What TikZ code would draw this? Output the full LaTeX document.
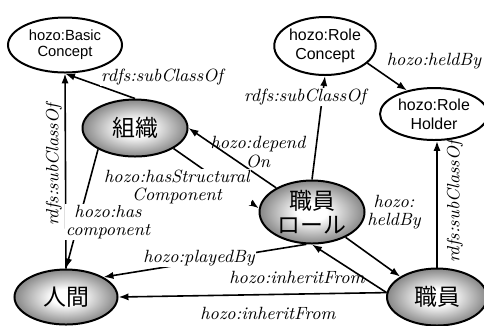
\documentclass[tikz,border=0pt]{standalone}
\usepackage{fontspec}
\setsansfont{Liberation Sans}
\newfontfamily\jpfont{Noto Sans CJK JP}
\usetikzlibrary{shapes.geometric, arrows.meta}

\pgfdeclareradialshading{grayball}{\pgfpoint{0bp}{0bp}}{%
    color(0bp)=(white); color(7bp)=(white); color(25bp)=(black!47); color(50bp)=(black!47)}

\tikzset{
    % hozo classes - white ellipses
    hozoclass/.style={
        ellipse,
        draw=black,
        fill=white,
        line width=1pt,
        inner sep=0pt,
        align=center,
        font=\sffamily\fontsize{8}{9.5}\selectfont
    },
    % domain classes - shaded ellipses
    domclass/.style={
        ellipse,
        draw=black,
        line width=1pt,
        shading=grayball,
        inner sep=0pt,
        align=center,
        font=\jpfont\fontsize{11.5}{12}\selectfont
    },
    % property labels
    prop/.style={
        fill=white,
        inner sep=0.5pt,
        align=center,
        font=\itshape\fontsize{8.9}{9.2}\selectfont
    },
    arrow/.style={
        -{Latex[length=5pt, width=3.6pt]},
        line width=0.8pt,
        draw=black
    }
}

\begin{document}
\begin{tikzpicture}[x=0.5bp, y=-0.5bp]
    \useasboundingbox (0,0) rectangle (484,325);

    % hozo classes
    \node[hozoclass, minimum width=57bp, minimum height=27.5bp, font=\sffamily\fontsize{7.4}{8.2}\selectfont] (bc) at (65,45) {hozo:Basic\\Concept};
    \node[hozoclass, minimum width=50.5bp, minimum height=29bp] (rc) at (325,46) {hozo:Role\\Concept};
    \node[hozoclass, minimum width=54bp, minimum height=26bp] (rh) at (434,114) {hozo:Role\\Holder};

    % domain classes
    \node[domclass, minimum width=52.5bp, minimum height=28.5bp] (sosiki) at (135,128) {組織};
    \node[domclass, minimum width=52.5bp, minimum height=31.5bp] (role) at (312,212) {職員\\ロール};
    \node[domclass, minimum width=51.5bp, minimum height=27.5bp] (ningen) at (66,297) {人間};
    \node[domclass, minimum width=50bp, minimum height=28.5bp] (shokuin) at (437,297) {職員};

    % Arrows
    \draw[arrow] (sosiki.north) -- (bc.south);
    \draw[arrow] (ningen.north) -- (bc.south);
    \draw[arrow] (sosiki.210) -- (ningen.north);
    \draw[arrow] (sosiki.332) -- (role.176);
    \draw[arrow] (role.146) -- (sosiki.east);
    \draw[arrow] (role.north) -- (rc.south);
    \draw[arrow] (rc.338) -- (rh.139);
    \draw[arrow] (shokuin.north) -- (shokuin.north |- rh.south);
    \draw[arrow] (role.323) -- (shokuin.151);
    \draw[arrow] (shokuin.175) -- (role.south);
    \draw[arrow] (role.260) -- (ningen.28);
    \draw[arrow] (shokuin.175) -- (ningen.east);

    % Property labels
    \node[prop] (l1) at (162,77) {rdfs:subClassOf};
    \node[prop, fill=none, rotate=90] (l2) at (54,165) {rdfs:subClassOf};
    \node[prop] (l3) at (108,222) {hozo:has\\component};
    \node[prop] (l4) at (177,187) {hozo:hasStructural\\Component};
    \node[prop, fill=none] (l5) at (258,152) {hozo:depend\\On};
    \node[prop] (l6) at (305,97) {rdfs:subClassOf};
    \node[prop] (l7) at (434,61) {hozo:heldBy};
    \node[prop, fill=none, rotate=90] (l8) at (455,202) {rdfs:subClassOf};
    \node[prop, fill=none] (l9) at (394,212) {hozo:\\heldBy};
    \node[prop] (l10) at (199,258) {hozo:playedBy};
    \node[prop, fill=none] (l11) at (297,277) {hozo:inheritFrom};
    \node[prop, fill=none] (l12) at (268,313) {hozo:inheritFrom};
\end{tikzpicture}
\end{document}
